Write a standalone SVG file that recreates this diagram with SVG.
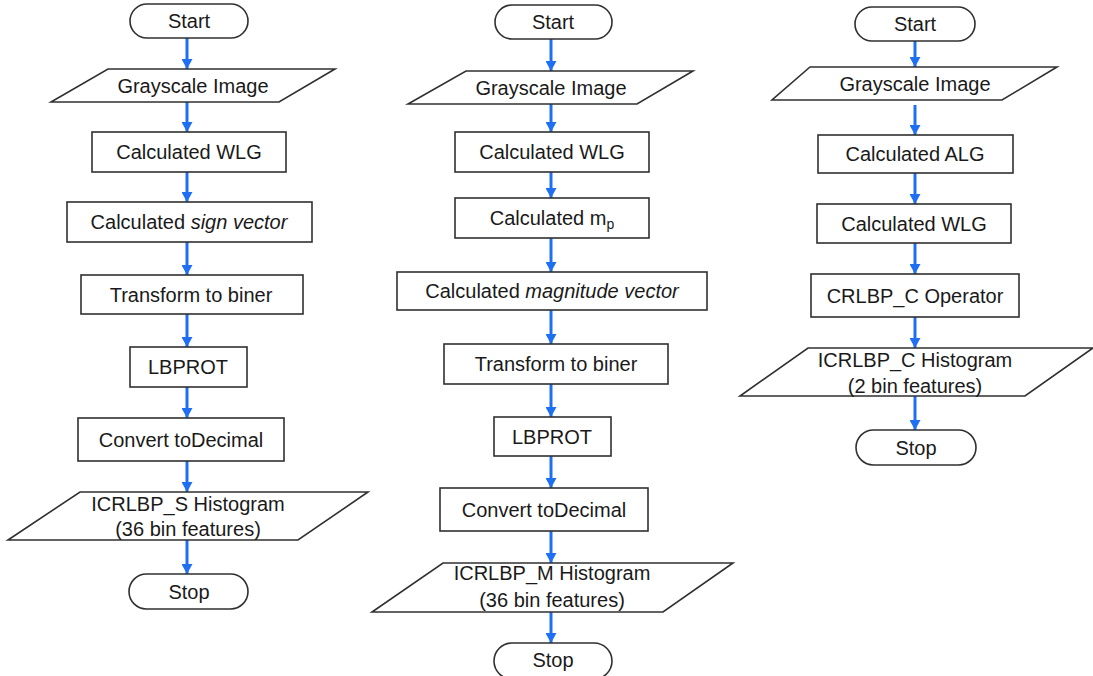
<svg xmlns="http://www.w3.org/2000/svg" width="1093" height="676" viewBox="0 0 1093 676">
<defs>
<style>
.n{fill:#ffffff;stroke:#303030;stroke-width:1.6}
.t{font-family:"Liberation Sans",Arial,sans-serif;font-size:20px;fill:#1a1a1a;text-anchor:middle}
.i{font-style:italic}
.c{stroke:#1f6ff2;stroke-width:3;fill:none;marker-end:url(#ah)}
</style>
<marker id="ah" markerUnits="userSpaceOnUse" markerWidth="10" markerHeight="11" viewBox="0 0 10 11" refX="10" refY="5.5" orient="auto">
<path d="M0,0 L10,5.5 L0,11 Z" fill="#1f6ff2"/>
</marker>
</defs>
<rect width="1093" height="676" fill="#ffffff"/>
<g id="connectors">
<path class="c" d="M187,38 V69"/>
<path class="c" d="M187,102 V132"/>
<path class="c" d="M187,172 V202"/>
<path class="c" d="M187,242 V275"/>
<path class="c" d="M187,314 V347"/>
<path class="c" d="M187,387 V418"/>
<path class="c" d="M187,461 V492"/>
<path class="c" d="M187,540 V574"/>
<path class="c" d="M551,39 V71"/>
<path class="c" d="M551,104 V132"/>
<path class="c" d="M551,172 V198"/>
<path class="c" d="M551,238 V272"/>
<path class="c" d="M551,310 V344"/>
<path class="c" d="M551,384 V417"/>
<path class="c" d="M551,456 V488"/>
<path class="c" d="M551,531 V563"/>
<path class="c" d="M551,612 V643"/>
<path class="c" d="M915,41 V67"/>
<path class="c" d="M915,105 V135"/>
<path class="c" d="M915,173 V204"/>
<path class="c" d="M915,243 V274"/>
<path class="c" d="M915,317 V348"/>
<path class="c" d="M915,396 V430"/>
</g>
<g id="s1-start"><rect class="n" x="130" y="4" width="118" height="34" rx="17"/><text class="t" x="189" y="28">Start</text></g>
<g id="s1-gray"><polygon class="n" points="108,69 335,69 279,102 51,102"/><text class="t" x="193" y="92.5">Grayscale Image</text></g>
<g id="s1-wlg"><rect class="n" x="92" y="132" width="194" height="40"/><text class="t" x="189" y="159">Calculated WLG</text></g>
<g id="s1-sign"><rect class="n" x="67" y="202" width="245" height="40"/><text class="t" x="189" y="229">Calculated <tspan class="i">sign vector</tspan></text></g>
<g id="s1-biner"><rect class="n" x="81" y="275" width="222" height="39"/><text class="t" x="191" y="301.5">Transform to biner</text></g>
<g id="s1-lbprot"><rect class="n" x="130" y="347" width="117" height="40"/><text class="t" x="188" y="374">LBPROT</text></g>
<g id="s1-dec"><rect class="n" x="78" y="418" width="206" height="43"/><text class="t" x="181" y="446.5">Convert toDecimal</text></g>
<g id="s1-hist"><polygon class="n" points="80,492 368,492 298,540 8,540"/><text class="t" x="188" y="511">ICRLBP_S Histogram</text><text class="t" x="188" y="536">(36 bin features)</text></g>
<g id="s1-stop"><rect class="n" x="129" y="574" width="119" height="35" rx="17.5"/><text class="t" x="189" y="598.5">Stop</text></g>

<g id="s2-start"><rect class="n" x="495" y="5" width="117" height="34" rx="17"/><text class="t" x="553" y="29">Start</text></g>
<g id="s2-gray"><polygon class="n" points="466,71 693,71 637,104 408,104"/><text class="t" x="551" y="94.5">Grayscale Image</text></g>
<g id="s2-wlg"><rect class="n" x="455" y="132" width="194" height="40"/><text class="t" x="552" y="159">Calculated WLG</text></g>
<g id="s2-mp"><rect class="n" x="455" y="198" width="194" height="40"/><text class="t" x="552" y="225">Calculated m<tspan font-size="14" dy="4">p</tspan></text></g>
<g id="s2-mag"><rect class="n" x="397" y="272" width="310" height="38"/><text class="t" x="552" y="298">Calculated <tspan class="i">magnitude  vector</tspan></text></g>
<g id="s2-biner"><rect class="n" x="444" y="344" width="224" height="40"/><text class="t" x="556" y="371">Transform to biner</text></g>
<g id="s2-lbprot"><rect class="n" x="494" y="417" width="117" height="39"/><text class="t" x="552" y="443.5">LBPROT</text></g>
<g id="s2-dec"><rect class="n" x="440" y="488" width="208" height="43"/><text class="t" x="544" y="516.5">Convert toDecimal</text></g>
<g id="s2-hist"><polygon class="n" points="443,563 733,563 663,612 372,612"/><text class="t" x="552" y="580">ICRLBP_M Histogram</text><text class="t" x="552" y="607">(36 bin features)</text></g>
<g id="s2-stop"><rect class="n" x="494" y="643" width="118" height="36" rx="18"/><text class="t" x="553" y="667">Stop</text></g>

<g id="s3-start"><rect class="n" x="855" y="7" width="120" height="34" rx="17"/><text class="t" x="915" y="31">Start</text></g>
<g id="s3-gray"><polygon class="n" points="810,67 1057,67 1002,100 772,100"/><text class="t" x="915" y="90.5">Grayscale Image</text></g>
<g id="s3-alg"><rect class="n" x="818" y="135" width="195" height="38"/><text class="t" x="915" y="161">Calculated ALG</text></g>
<g id="s3-wlg"><rect class="n" x="817" y="204" width="194" height="39"/><text class="t" x="914" y="230.5">Calculated WLG</text></g>
<g id="s3-op"><rect class="n" x="811" y="274" width="208" height="43"/><text class="t" x="915" y="302.5">CRLBP_C Operator</text></g>
<g id="s3-hist"><polygon class="n" points="808,348 1093,348 1025,396 740,396"/><text class="t" x="915" y="367">ICRLBP_C Histogram</text><text class="t" x="915" y="393">(2 bin features)</text></g>
<g id="s3-stop"><rect class="n" x="856" y="430" width="120" height="35" rx="17.5"/><text class="t" x="916" y="454.5">Stop</text></g>
</svg>
